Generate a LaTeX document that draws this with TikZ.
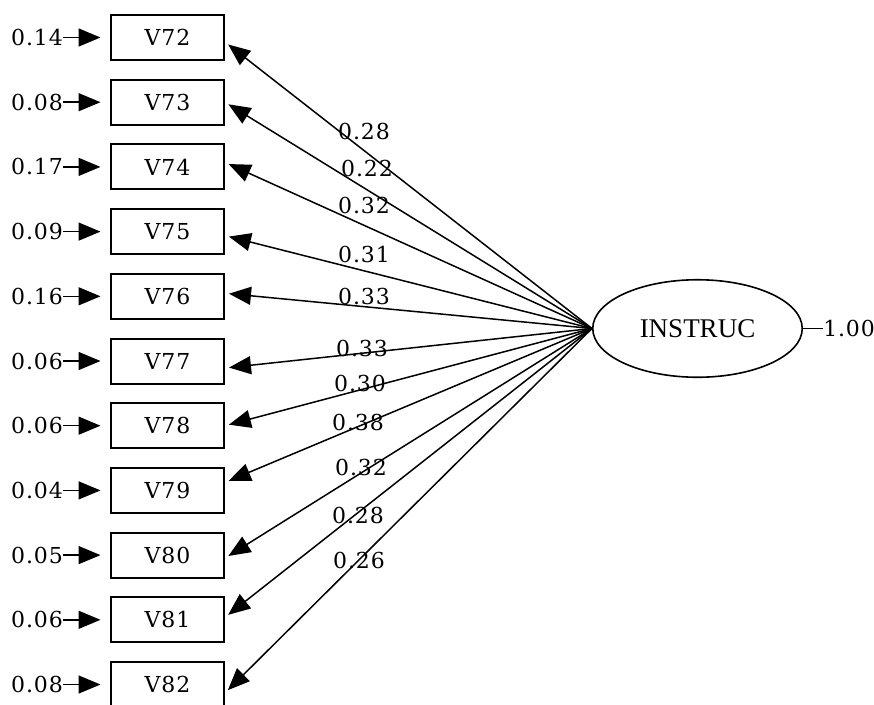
\documentclass[tikz,border=0pt]{standalone}
\usepackage{fontspec}
\setmainfont{DejaVu Serif}[LetterSpace=4]
\newfontfamily\latentfont{Liberation Serif}
\usetikzlibrary{positioning, arrows.meta, shapes.geometric}

\begin{document}
\begin{tikzpicture}[
  x=1pt, y=1pt,
  node distance=17.7pt and 47pt,
  font=\fontsize{22}{26}\selectfont,
  obs/.style={draw, line width=2pt, minimum width=113pt, minimum height=45pt, inner sep=0pt},
  latent/.style={draw, ellipse, line width=1.6pt, minimum width=209.5pt, minimum height=97.5pt, inner sep=0pt, font=\latentfont\fontsize{27}{32}\selectfont},
  errlab/.style={inner sep=0pt},
  coef/.style={inner sep=0pt},
  arr/.style={-{Triangle[length=22pt, width=18pt]}, line width=1.5pt, shorten >=4pt},
  errarr/.style={-{Triangle[length=22pt, width=18pt]}, line width=1.5pt, shorten >=9.5pt}
]
\useasboundingbox (0,0) rectangle (874,-704);
\node[obs] (v72) at (167.5,-37.5) {V72};
\node[obs, below=of v72] (v73) {V73};
\node[obs, below=of v73] (v74) {V74};
\node[obs, below=of v74] (v75) {V75};
\node[obs, below=of v75] (v76) {V76};
\node[obs, below=of v76] (v77) {V77};
\node[obs, below=of v77] (v78) {V78};
\node[obs, below=of v78] (v79) {V79};
\node[obs, below=of v79] (v80) {V80};
\node[obs, below=of v80] (v81) {V81};
\node[obs, below=of v81] (v82) {V82};
% error variances
\node[errlab, left=of v72] (e72) {0.14};
\node[errlab, left=of v73] (e73) {0.08};
\node[errlab, left=of v74] (e74) {0.17};
\node[errlab, left=of v75] (e75) {0.09};
\node[errlab, left=of v76] (e76) {0.16};
\node[errlab, left=of v77] (e77) {0.06};
\node[errlab, left=of v78] (e78) {0.06};
\node[errlab, left=of v79] (e79) {0.04};
\node[errlab, left=of v80] (e80) {0.05};
\node[errlab, left=of v81] (e81) {0.06};
\node[errlab, left=of v82] (e82) {0.08};
\draw[errarr] (e72)--(v72);
\draw[errarr] (e73)--(v73);
\draw[errarr] (e74)--(v74);
\draw[errarr] (e75)--(v75);
\draw[errarr] (e76)--(v76);
\draw[errarr] (e77)--(v77);
\draw[errarr] (e78)--(v78);
\draw[errarr] (e79)--(v79);
\draw[errarr] (e80)--(v80);
\draw[errarr] (e81)--(v81);
\draw[errarr] (e82)--(v82);
% factor
\node[latent] (instruc) at (697.5,-328.5) {INSTRUC};
\node[errlab, right=20pt of instruc] (d1) {1.00};
\draw[line width=1.5pt] (instruc)--(d1);
% loadings
\draw[arr] (instruc.west)--([yshift=-4.5pt]v72.east);
\draw[arr] (instruc.west)--(v73.east);
\draw[arr] (instruc.west)--([yshift=4.5pt]v74.east);
\draw[arr] (instruc.west)--([yshift=-4pt]v75.east);
\draw[arr] (instruc.west)--([yshift=3pt]v76.east);
\draw[arr] (instruc.west)--([yshift=-7pt]v77.east);
\draw[arr] (instruc.west)--(v78.east);
\draw[arr] (instruc.west)--([yshift=8pt]v79.east);
\draw[arr] (instruc.west)--([yshift=-3pt]v80.east);
\draw[arr] (instruc.west)--([yshift=2.5pt]v81.east);
\draw[arr] (instruc.west)--([yshift=-8.5pt]v82.east);
\node[coef] (c72) at (364,-131) {0.28};
\node[coef] (c73) at (367,-168) {0.22};
\node[coef] (c74) at (364,-205) {0.32};
\node[coef] (c75) at (364,-254) {0.31};
\node[coef] (c76) at (364,-296) {0.33};
\node[coef] (c77) at (362,-348) {0.33};
\node[coef] (c78) at (360,-383) {0.30};
\node[coef] (c79) at (358,-422) {0.38};
\node[coef] (c80) at (361,-467) {0.32};
\node[coef] (c81) at (358,-515) {0.28};
\node[coef] (c82) at (359,-560) {0.26};
\end{tikzpicture}
\end{document}
